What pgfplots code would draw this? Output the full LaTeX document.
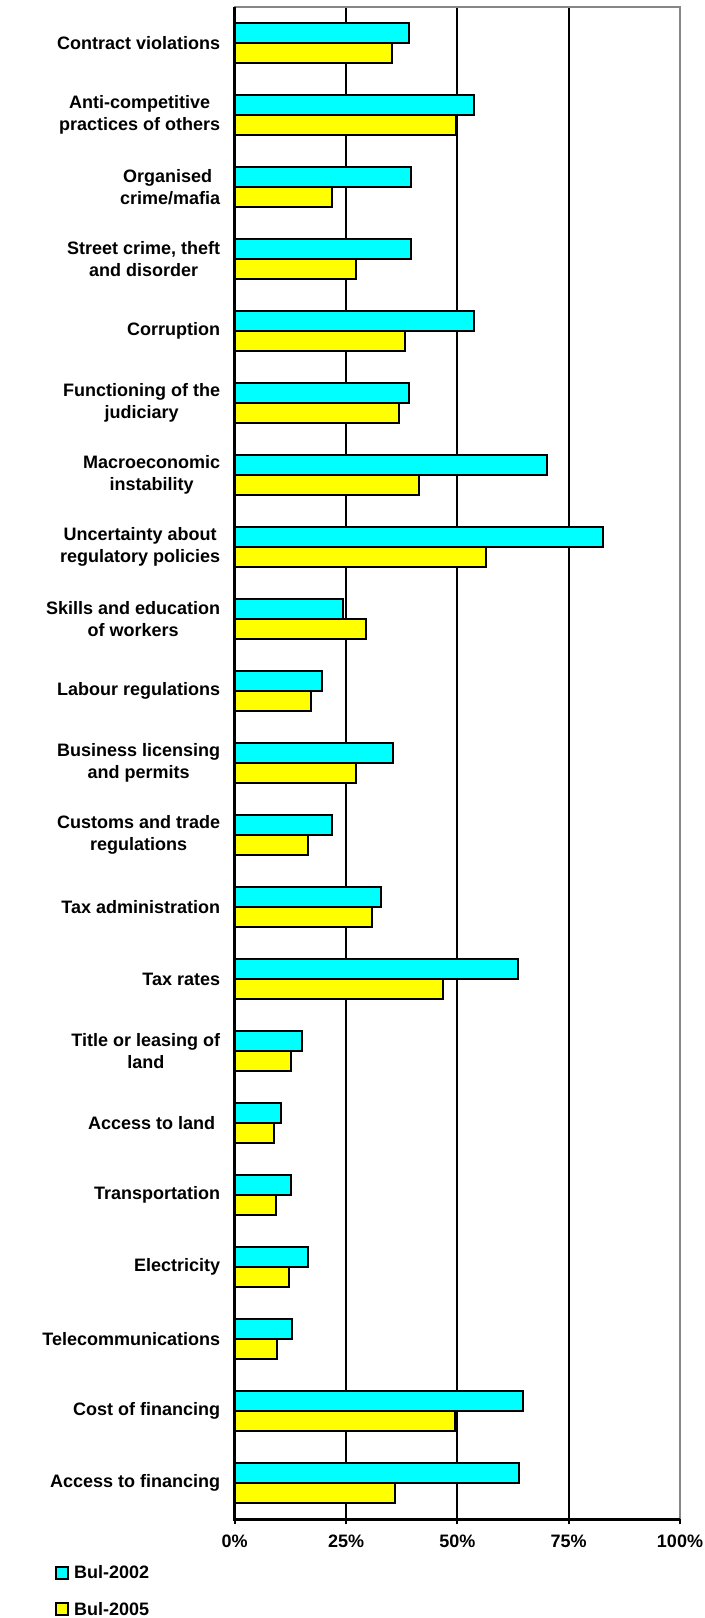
\documentclass[border=0pt]{standalone}
\usepackage{fontspec}
\setmainfont{Liberation Sans}
\usepackage{pgfplots}
\pgfplotsset{compat=1.18}
\definecolor{c02}{HTML}{00FFFF}
\definecolor{c05}{HTML}{FFFF00}
\definecolor{frame}{HTML}{868686}
\newcommand{\lblfont}{\bfseries\fontsize{18bp}{21.7bp}\selectfont}
\begin{document}
\begin{tikzpicture}
\useasboundingbox (-234.7bp,-98.7bp) rectangle (470.3bp,1519.3bp);
\begin{axis}[
  at={(0,0)}, anchor=south west,
  scale only axis, width=445.3bp, height=1512.3bp,
  clip=false,
  xbar, bar width=20bp,
  xmin=0, xmax=100, ymin=-0.5, ymax=20.5,
  xtick={25,50,75}, extra x ticks={0,100},
  extra x tick style={grid=none},
  xmajorgrids, grid style={black, line width=2bp},
  xticklabel={\pgfmathprintnumber{\tick}\%},
  /pgf/number format/assume math mode=true,
  tick align=outside, xtick pos=bottom, ytick pos=left,
  major tick length=5bp,
  xtick style={black, line width=2bp},
  ytick style={draw=none},
  axis line style={frame, line width=2bp},
  ticklabel style={font=\lblfont},
  xticklabel style={yshift=-7bp},
  yticklabel style={align=center, xshift=-6bp},
  ytick={0,...,20},
  yticklabels={
    {Access to financing},
    {Cost of financing},
    {Telecommunications},
    {Electricity},
    {Transportation},
    {Access to land\hspace*{0.28em}},
    {Title or leasing of\\land},
    {Tax rates},
    {Tax administration},
    {Customs and trade\\regulations},
    {Business licensing\\and permits},
    {Labour regulations},
    {Skills and education\\of workers},
    {Uncertainty about\\regulatory policies},
    {Macroeconomic\\instability},
    {Functioning of the\\judiciary},
    {Corruption},
    {Street crime, theft\\and disorder},
    {Organised\hspace*{0.28em}\\crime/mafia},
    {Anti-competitive\\practices of others},
    {Contract violations}},
  legend image code/.code={\draw[#1] (0bp,-6bp) rectangle (12bp,6bp);},
  legend style={at={(axis description cs:-0.4035,-0.0305)}, anchor=north west,
    draw=none, fill=none, inner sep=0pt, row sep=22bp, column sep=5bp,
    font=\lblfont, nodes={inner sep=0pt}},
  legend cell align=left,
]
\addplot[fill=c02, draw=black, line width=2bp, bar shift=10bp] coordinates {
  (63.9,0) (64.8,1) (12.9,2) (16.4,3) (12.7,4) (10.3,5) (15.2,6)
  (63.7,7) (32.8,8) (21.9,9) (35.6,10) (19.6,11) (24.4,12) (82.6,13)
  (70.2,14) (39.2,15) (53.8,16) (39.7,17) (39.7,18) (53.7,19) (39.1,20)};
\addplot[fill=c05, draw=black, line width=2bp, bar shift=-10bp] coordinates {
  (36.0,0) (49.5,1) (9.4,2) (12.3,3) (9.3,4) (8.8,5) (12.6,6)
  (46.7,7) (30.8,8) (16.5,9) (27.2,10) (17.1,11) (29.5,12) (56.5,13)
  (41.3,14) (36.9,15) (38.3,16) (27.3,17) (21.9,18) (49.6,19) (35.3,20)};
\legend{Bul-2002, Bul-2005}
\draw[black, line width=2.5bp] (rel axis cs:0,1) -- (rel axis cs:0,0) -- (rel axis cs:1,0);
\end{axis}
\end{tikzpicture}
\end{document}
